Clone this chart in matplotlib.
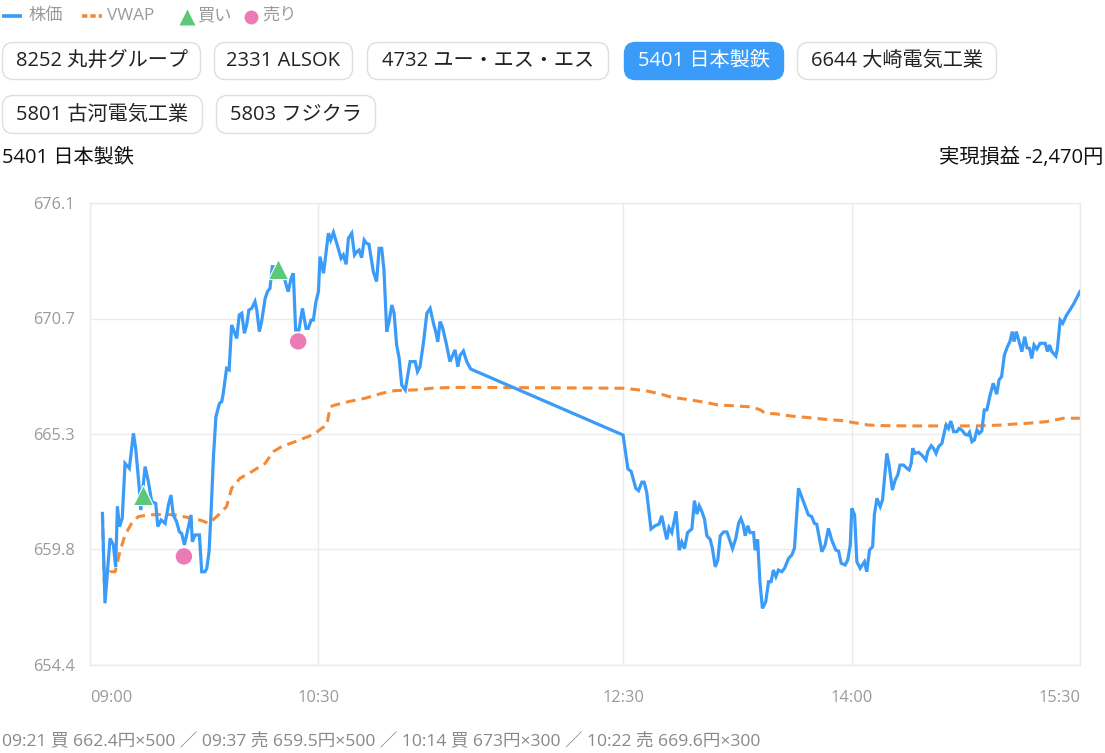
import matplotlib
matplotlib.use("Agg")
import matplotlib.pyplot as plt
from matplotlib.patches import FancyBboxPatch
from matplotlib.lines import Line2D
import numpy as np

plt.rcParams['font.family'] = ['Open Sans', 'Noto Sans CJK JP', 'DejaVu Sans']

# ---------------- data ----------------
# minutes after 09:00
price_min = [4.9, 5.9, 7.9, 9.2, 10.1, 10.8, 11.6, 12.7, 13.8, 15.5, 17.1, 18.0, 19.3, 20.0,
             21.7, 23.0, 24.3, 25.9, 26.7, 28.0, 29.6, 30.9, 31.9, 32.8, 34.1, 35.2, 36.1, 37.2,
             39.8, 40.3, 41.4, 43.1, 44.0, 45.3, 46.0, 46.9, 47.7, 48.6, 49.6, 51.0, 51.9, 52.5,
             53.8, 54.8, 55.8, 57.8, 58.8, 59.8, 60.8, 61.7, 62.6, 63.7, 65.0, 65.7, 66.7, 67.6,
             69.0, 69.9, 70.9, 71.8, 74.0, 76.2, 77.5, 78.1, 79.2, 80.1, 81.0, 82.3, 83.7, 85.1,
             86.0, 87.1, 88.0, 89.0, 90.0, 90.6, 92.0, 93.9, 94.8, 95.9, 97.2, 98.9, 99.8, 100.9,
             101.8, 103.1, 104.2, 105.1, 106.0, 107.0, 108.0, 108.9, 109.9, 111.6, 112.9, 113.9,
             114.9, 115.8, 116.9, 117.8, 118.9, 119.8, 120.8, 121.8, 122.8, 124.2, 126.1, 128.1,
             129.0, 130.0, 131.4, 132.7, 134.0, 135.3, 136.2, 137.0, 137.9, 138.8, 140.2, 141.8,
             143.8, 144.9, 145.8, 147.1, 148.4, 150.0,
             210.0, 211.9, 213.2, 215.0, 216.1, 217.4, 218.3, 219.3, 221.0, 222.6, 224.2, 225.2,
             227.2, 228.1, 229.2, 230.9, 232.1, 233.1, 234.2, 235.4, 237.1, 238.1, 239.1, 240.0,
             241.0, 242.1, 243.0, 244.3, 245.2, 246.3, 247.3, 248.3, 249.6, 250.9, 251.8, 253.1,
             254.4, 255.5, 256.4, 257.4, 258.1, 259.1, 260.0, 261.4, 262.0, 263.0, 263.9, 264.9,
             266.2, 267.3, 268.3, 269.2, 270.2, 271.2, 272.5, 273.6, 275.2, 276.5, 277.5, 278.4,
             279.1, 280.1, 281.5, 283.0, 284.3, 285.4, 286.3, 288.3, 289.6, 290.9, 292.2, 293.8,
             294.9, 295.9, 297.5, 298.5, 299.5, 300.1, 301.2, 302.1, 303.4, 305.1, 306.0, 307.1,
             308.3, 309.0, 310.0, 311.3, 312.2, 313.9, 314.8, 316.1, 317.2, 318.2, 319.1, 320.5,
             321.8, 322.7, 323.5, 324.1, 325.0, 326.4, 327.7, 329.3, 330.0, 331.4, 332.3, 333.3,
             334.3, 335.6, 336.6, 337.3, 338.2, 339.1, 340.2, 341.5, 342.4, 343.4, 344.8, 345.8,
             346.5, 347.4, 348.4, 349.4, 350.3, 351.3, 352.3, 353.3, 354.6, 355.8, 357.2, 358.1,
             359.1, 360.2, 361.4, 362.4, 363.3, 364.0, 364.9, 366.2, 367.1, 368.2, 369.1, 370.1,
             371.0, 371.9, 373.0, 374.3, 376.3, 377.2, 378.0, 378.9, 380.5, 381.1, 382.2, 383.2,
             384.6, 387.4, 390.0]
price = [661.52, 657.30, 660.35, 660.04, 659.02, 661.84, 660.90, 661.29, 663.87, 663.64, 665.28,
         664.58, 662.85, 661.68, 663.72, 663.01, 662.07, 661.99, 660.90, 661.21, 661.05, 661.92,
         662.38, 661.45, 661.13, 660.66, 660.58, 660.04, 661.45, 660.19, 660.51, 660.51, 658.78,
         658.78, 658.94, 659.72, 661.60, 664.11, 666.06, 666.69, 666.77, 667.16, 668.33, 668.26,
         670.37, 669.74, 670.84, 670.92, 669.98, 670.37, 671.07, 671.15, 671.47, 671.07, 670.06,
         670.53, 671.62, 671.94, 672.09, 673.11, 673.10, 672.72, 672.17, 671.94, 672.56, 672.80,
         670.14, 670.14, 671.15, 670.21, 670.21, 670.60, 670.60, 671.47, 671.94, 673.58, 672.80,
         674.68, 674.36, 674.72, 674.21, 673.50, 673.66, 673.22, 674.44, 674.68, 673.66, 673.81,
         673.89, 673.53, 674.36, 674.21, 674.16, 672.88, 672.41, 673.97, 673.97, 672.96, 670.06,
         670.53, 671.31, 670.92, 669.43, 668.80, 667.55, 667.32, 668.65, 668.65, 668.18, 668.41,
         669.58, 670.92, 671.15, 670.45, 670.06, 669.58, 670.53, 670.29, 669.58, 668.65, 669.20,
         668.41, 668.95, 669.15, 668.65, 668.30,
         665.20, 663.61, 663.49, 662.70, 662.59, 662.99, 662.99, 662.52, 660.79, 660.94, 661.02,
         661.41, 660.30, 660.85, 660.62, 661.62, 659.79, 660.18, 659.87, 660.62, 660.79, 662.12,
         661.49, 661.88, 661.62, 661.24, 660.47, 660.30, 659.87, 659.01, 659.32, 660.47, 660.65,
         660.65, 660.34, 659.87, 660.34, 661.05, 661.28, 660.96, 660.47, 660.94, 660.62, 660.62,
         659.79, 660.30, 658.31, 657.06, 657.37, 658.31, 658.31, 658.86, 658.55, 658.86, 658.78,
         658.94, 659.41, 659.57, 659.88, 661.45, 662.70, 662.38, 661.92, 661.45, 661.37, 661.05,
         661.01, 659.72, 660.04, 660.82, 660.27, 659.80, 659.75, 659.18, 659.10, 659.33, 660.04,
         661.76, 661.45, 659.25, 658.94, 659.25, 658.78, 659.80, 659.96, 661.45, 662.23, 661.84,
         662.15, 664.34, 663.79, 662.62, 663.09, 663.32, 663.79, 663.79, 663.64, 663.56, 663.87,
         664.58, 664.34, 664.39, 664.26, 664.03, 664.42, 664.70, 664.58, 664.34, 664.66, 664.81,
         665.36, 665.67, 665.51, 665.86, 665.36, 665.36, 665.51, 665.44, 665.23, 665.20, 665.33,
         664.89, 664.97, 665.44, 665.28, 665.39, 666.38, 666.38, 667.08, 667.63, 667.12, 667.79,
         667.94, 668.96, 669.35, 669.59, 670.06, 669.59, 670.06, 669.51, 669.12, 669.82, 669.30,
         669.27, 668.80, 669.43, 669.24, 669.51, 669.51, 669.12, 669.43, 669.12, 668.91, 669.27,
         670.60, 670.45, 670.81, 671.34, 671.94]

vwap_min = [4.9, 5.6, 7.9, 9.9, 11.8, 13.8, 16.4, 19.0, 23.0, 29.6, 33.5, 40.1, 43.3, 46.9, 50.6,
            53.8, 55.8, 59.1, 63.7, 69.0, 72.2, 75.5, 80.8, 86.0, 88.7, 91.3, 93.3, 94.6, 96.5,
            101.8, 108.4, 114.9, 120.2, 128.1, 134.6, 141.2, 147.8, 150.0,
            210.0, 218.7, 225.3, 229.2, 234.4, 242.3, 247.6, 252.8, 260.7, 264.1, 266.0, 269.9,
            276.5, 283.0, 289.6, 296.2, 300.1, 306.7, 313.2, 322.4, 335.6, 348.8, 359.2, 364.4,
            369.1, 376.9, 383.5, 390.0]
vwap = [661.52, 658.31, 658.78, 658.78, 659.72, 660.51, 661.05, 661.37, 661.45, 661.48, 661.45,
        661.29, 661.21, 661.05, 661.45, 661.84, 662.70, 663.17, 663.48, 663.87, 664.42, 664.66,
        664.89, 665.13, 665.28, 665.52, 665.67, 666.53, 666.61, 666.77, 666.93, 667.16, 667.29,
        667.32, 667.40, 667.43, 667.44, 667.44,
        667.40, 667.29, 667.11, 666.97, 666.89, 666.74, 666.61, 666.58, 666.52, 666.38, 666.22,
        666.20, 666.09, 666.02, 665.94, 665.88, 665.80, 665.67, 665.64, 665.63, 665.63, 665.63,
        665.67, 665.72, 665.75, 665.83, 665.99, 665.99]

buy_min = [21, 74]
buy_price = [662.4, 673.0]
sell_min = [37, 82]
sell_price = [659.5, 669.6]

x_ticks = [0, 90, 210, 300, 390]
x_labels = ["09:00", "10:30", "12:30", "14:00", "15:30"]
y_min, y_max = 654.4, 676.1
y_labels = ["654.4", "659.8", "665.3", "670.7", "676.1"]

stocks = ["8252 丸井グループ", "2331 ALSOK", "4732 ユー・エス・エス", "5401 日本製鉄",
          "6644 大崎電気工業", "5801 古河電気工業", "5803 フジクラ"]
active_stock = "5401 日本製鉄"
title = "5401 日本製鉄"
pnl_text = "実現損益 -2,470円"
trade_log = "09:21 買 662.4円×500 ／ 09:37 売 659.5円×500 ／ 10:14 買 673円×300 ／ 10:22 売 669.6円×300"

# ---------------- styles ----------------
BLUE = "#3a9cf8"
ORANGE = "#f58a36"
GREEN = "#5cc97a"
PINK = "#ec7bb5"
GRID = "#ebebeb"
GRAY_TXT = "#9a9a9a"

W, H = 1105, 753
fig = plt.figure(figsize=(W / 100, H / 100), dpi=100)
fig.patch.set_facecolor("white")

# overlay in pixel coords for UI elements
ov = fig.add_axes([0, 0, 1, 1])
ov.set_xlim(0, W)
ov.set_ylim(H, 0)
ov.axis("off")

# legend
ly = 16
LEG_FS = 12.4
ov.add_line(Line2D([2, 22], [ly, ly], color=BLUE, lw=2.6, solid_capstyle="butt"))
ov.text(28, ly, "株価", fontsize=LEG_FS, color=GRAY_TXT, va="center", ha="left")
ov.add_line(Line2D([82, 102], [ly, ly], color=ORANGE, lw=2.6, dashes=(1.5, 0.8)))
ov.text(107, ly, "VWAP", fontsize=LEG_FS, color=GRAY_TXT, va="center", ha="left")
ov.plot([187], [ly + 1], marker="^", ms=12, color=GREEN, mec="none")
ov.text(197, ly, "買い", fontsize=LEG_FS, color=GRAY_TXT, va="center", ha="left")
ov.plot([251], [ly + 1], marker="o", ms=10, color=PINK, mec="none")
ov.text(262, ly, "売り", fontsize=LEG_FS, color=GRAY_TXT, va="center", ha="left")

# buttons
btn_boxes = [(2, 201, 42, 80), (214, 353, 42, 80), (367, 609, 42, 80), (624, 784, 42, 80),
             (797, 997, 42, 80), (2, 203, 95, 134), (216, 376, 95, 134)]
for name, (x0, x1, y0, y1) in zip(stocks, btn_boxes):
    active = name == active_stock
    box = FancyBboxPatch((x0 + 0.5, y0 + 0.5), x1 - x0 - 1, y1 - y0 - 1,
                         boxstyle="round,pad=0,rounding_size=11",
                         fc=BLUE if active else "white",
                         ec=BLUE if active else "#dedede", lw=1.0)
    ov.add_patch(box)
    ov.text((x0 + x1) / 2, (y0 + y1) / 2, name, fontsize=14.5,
            color="white" if active else "#222222", ha="center", va="center")

ov.text(2, 158, title, fontsize=14.5, color="#111111", ha="left", va="center")
ov.text(1103, 158, pnl_text, fontsize=14.6, color="#111111", ha="right", va="center")
ov.text(2, 741, trade_log, fontsize=12.6, color="#888888", ha="left", va="center")

# ---------------- chart ----------------
L, R, T, B = 90, 1080, 203, 665
ax = fig.add_axes([L / W, (H - B) / H, (R - L) / W, (B - T) / H])
ax.set_facecolor("white")
ax.set_xlim(x_ticks[0], x_ticks[-1])
ax.set_ylim(y_min, y_max)

ax.plot(price_min, price, color=BLUE, lw=2.3, solid_joinstyle="miter", zorder=3)
ax.plot(vwap_min, vwap, color=ORANGE, lw=2.2, dashes=(3.2, 2.0), zorder=2)
ax.scatter(buy_min, buy_price, marker="^", s=210, color=GREEN, edgecolors="white",
           linewidths=0.8, zorder=5)
ax.scatter(sell_min, sell_price, marker="o", s=140, color=PINK, edgecolors="none", zorder=5)

ax.set_xticks(x_ticks, x_labels)
ax.set_yticks(np.linspace(y_min, y_max, len(y_labels)), y_labels)
ax.grid(True, color=GRID, lw=1.0)
ax.set_axisbelow(True)
for s in ax.spines.values():
    s.set_color(GRID)
    s.set_linewidth(1.0)
ax.tick_params(axis="both", length=0, colors=GRAY_TXT, labelsize=11.8)
ax.tick_params(axis="x", pad=18)
ax.tick_params(axis="y", pad=11)
xl = ax.get_xticklabels()
xl[0].set_ha("left")
xl[-1].set_ha("right")

fig.savefig("out.png", dpi=100, facecolor="white")
